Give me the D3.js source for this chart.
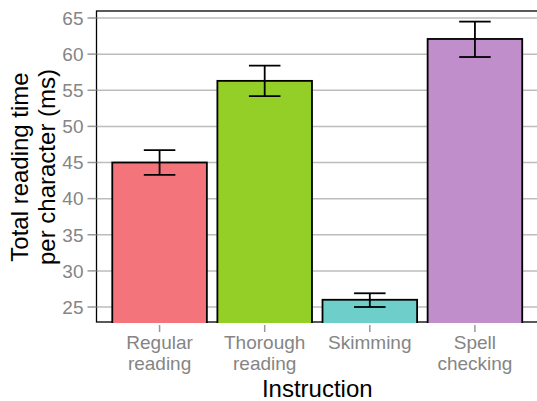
<!DOCTYPE html>
<html><head><meta charset="utf-8">
<script src="https://cdn.jsdelivr.net/npm/d3@7"></script>
<style>body{margin:0;background:#fff}svg{display:block;font-family:"Liberation Sans",Arial,sans-serif}</style>
</head><body><svg id="c" width="537" height="401"></svg>
<script>
const categories = [["Regular","reading"],["Thorough","reading"],["Skimming"],["Spell","checking"]];
const keys = ["Regular reading","Thorough reading","Skimming","Spell checking"];
const means = [45.0, 56.3, 26.0, 62.1];
const upper = [46.7, 58.4, 26.9, 64.5];
const lower = [43.3, 54.2, 25.0, 59.6];
const colors = ["#F4747C","#93CF27","#6ECFCA","#C08ECB"];
const yTicks = [25,30,35,40,45,50,55,60,65];

const svg = d3.select("#c");
const L = 96.5, T = 11, R = 538, B = 323;
const y = d3.scaleLinear().domain([25,65]).range([307,18]);
const step = (R-L)/4.2;
const x = d3.scaleBand().domain(keys).range([L+0.6*step-0.5*step, R-0.6*step+0.5*step]).paddingInner(0.1).paddingOuter(0.05);
const cx = k => x(k) + x.bandwidth()/2;

const defs = svg.append("defs");
defs.append("clipPath").attr("id","clip").append("rect").attr("x",L).attr("y",T).attr("width",R-L).attr("height",B-T);

// gridlines
svg.append("g").selectAll("line").data(yTicks).join("line")
  .attr("x1",L).attr("x2",R).attr("y1",d=>y(d)).attr("y2",d=>y(d))
  .attr("stroke","#bdbdbd").attr("stroke-width",1.5);

// panel border
svg.append("rect").attr("x",L).attr("y",T).attr("width",R-L).attr("height",B-1-T)
  .attr("fill","none").attr("stroke","#000").attr("stroke-width",1.3);

// bars
const g = svg.append("g").attr("clip-path","url(#clip)");
g.selectAll("rect.bar").data(means).join("rect").attr("class","bar")
  .attr("x",(d,i)=>x(keys[i])).attr("width",x.bandwidth())
  .attr("y",d=>y(d)).attr("height",d=>y(20)-y(d))
  .attr("fill",(d,i)=>colors[i]).attr("stroke","#000").attr("stroke-width",1.8);

// error bars
const eb = svg.append("g").attr("stroke","#000").attr("stroke-width",1.8);
means.forEach((m,i)=>{
  const c = cx(keys[i]), w = 0.15*step;
  eb.append("line").attr("x1",c).attr("x2",c).attr("y1",y(upper[i])).attr("y2",y(lower[i]));
  eb.append("line").attr("x1",c-w).attr("x2",c+w).attr("y1",y(upper[i])).attr("y2",y(upper[i]));
  eb.append("line").attr("x1",c-w).attr("x2",c+w).attr("y1",y(lower[i])).attr("y2",y(lower[i]));
});

// y axis ticks & labels
const ya = svg.append("g");
yTicks.forEach(t=>{
  ya.append("line").attr("x1",L-9).attr("x2",L).attr("y1",y(t)).attr("y2",y(t)).attr("stroke","#999").attr("stroke-width",1.5);
  ya.append("text").attr("x",L-13).attr("y",y(t)).attr("dy","0.36em").attr("text-anchor","end")
    .attr("font-size",19).attr("fill","#858585").text(t);
});

// x axis ticks & labels
const xa = svg.append("g");
categories.forEach((lines,i)=>{
  const c = cx(keys[i]);
  xa.append("line").attr("x1",c).attr("x2",c).attr("y1",B+2).attr("y2",B+9).attr("stroke","#999").attr("stroke-width",1.5);
  const tx = xa.append("text").attr("text-anchor","middle").attr("font-size",19).attr("fill","#858585");
  lines.forEach((s,j)=>tx.append("tspan").attr("x",c).attr("y",349+j*21).text(s));
});

// titles
svg.append("text").attr("x",(L+R)/2).attr("y",397).attr("text-anchor","middle").attr("font-size",24).attr("fill","#000").text("Instruction");
const yt = svg.append("text").attr("transform",`translate(0,${(T+B)/2}) rotate(-90)`).attr("text-anchor","middle").attr("font-size",24).attr("fill","#000");
yt.append("tspan").attr("x",0).attr("y",28).text("Total reading time");
yt.append("tspan").attr("x",0).attr("y",55).text("per character (ms)");
</script></body></html>
